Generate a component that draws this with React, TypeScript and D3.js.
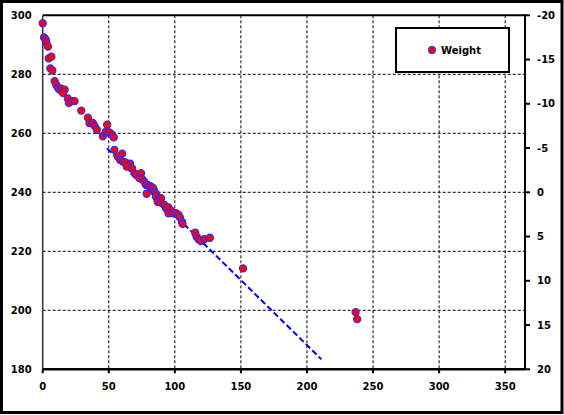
import React from 'react';
import * as d3 from 'd3';

// Day number vs weight
const days = [
  0, 1, 2.3, 2.8, 4, 4.5, 6.6, 5.8, 7.3, 9, 10.3, 11.5, 12.8, 14.1, 16.6, 15.3,
  19, 19.8, 22.4, 24.1, 29.2, 34.2, 35.4, 37.9, 39.2, 41, 45.5, 47.5, 48.8, 48,
  50.5, 52.6, 53.8, 54.3, 56.8, 60.1, 58.6, 60.6, 62.6, 66.1, 63.6, 67.6, 69.4,
  70.7, 74.4, 73.2, 75.2, 76.9, 78.2, 79.4, 80.7, 82, 82.7, 83.7, 84.5, 78.7,
  85.7, 85.7, 88.2, 89.5, 87, 89.5, 92, 93.3, 95.2, 97.1, 95.2, 98.3, 100.8,
  102.8, 103.8, 105.4, 105.8, 115.4, 116.4, 117.9, 119.7, 122.2, 126.5, 151.6,
  236.8, 238,
];
const weights = [
  297.3, 292.5, 291.8, 290.7, 289.4, 285.4, 286, 282, 281.3, 277.7, 276.4,
  275.4, 274.8, 275.1, 274.8, 273.7, 271.8, 270.3, 270.9, 270.9, 267.7, 265.3,
  263.5, 263.5, 262.6, 261.2, 259, 260.1, 262.9, 260.6, 260.3, 259.5, 258.6,
  254.4, 252.1, 253.1, 251, 250.4, 250.1, 249.7, 248.7, 248.2, 246.5, 245.9,
  246.5, 244.8, 244.5, 243.6, 242.5, 242.5, 242.2, 241.9, 241, 241.4, 240.2,
  239.5, 239.5, 238.5, 238, 238, 236.8, 236.5, 235.7, 234.6, 234.9, 233.8,
  232.9, 232.9, 232.9, 232.3, 231.5, 230, 229.3, 226.3, 225, 224.1, 223.5,
  224.1, 224.6, 214.2, 199.4, 197,
];

// dashed trend line end points
const trendDays = [48.6, 210.9];
const trendWeights = [254.9, 183.4];

const xTicks = [0, 50, 100, 150, 200, 250, 300, 350];
const yTicks = [180, 200, 220, 240, 260, 280, 300];
const y2Ticks = [-20, -15, -10, -5, 0, 5, 10, 15, 20];

const W = 564;
const H = 415;
const plot = { left: 42.7, right: 525, top: 15.3, bottom: 369.3 };
const FONT = '"DejaVu Sans", Verdana, sans-serif';

export default function App() {
  const x = d3.scaleLinear().domain([0, 365]).range([plot.left, plot.right]);
  const y = d3.scaleLinear().domain([180, 300]).range([plot.bottom, plot.top]);
  const y2 = d3.scaleLinear().domain([-20, 20]).range([plot.top, plot.bottom]);

  const trend = d3.line<number>()
    .x((_, i) => x(trendDays[i]))
    .y(d => y(d));

  return (
    <>
      <style>{`body{margin:0}`}</style>
      <svg width={W} height={H} style={{ display: 'block', background: '#fff' }}>
        {/* outer chart border */}
        <rect x={1.5} y={1.5} width={W - 3.5} height={H - 4} fill="#fff" stroke="#000" strokeWidth={3} />

        {/* grid */}
        {xTicks.filter(t => t > 0).map(t => (
          <line key={'gx' + t} x1={x(t)} x2={x(t)} y1={plot.top} y2={plot.bottom}
            stroke="#000" strokeWidth={1} strokeDasharray="3 2" />
        ))}
        {yTicks.filter(t => t > 180 && t < 300).map(t => (
          <line key={'gy' + t} x1={plot.left} x2={plot.right} y1={y(t)} y2={y(t)}
            stroke="#000" strokeWidth={1} strokeDasharray="3 2" />
        ))}

        {/* plot frame / axes */}
        <line x1={plot.left} x2={plot.right} y1={plot.top} y2={plot.top} stroke="#000" strokeWidth={2} />
        <line x1={plot.left} x2={plot.left} y1={plot.top} y2={plot.bottom} stroke="#333" strokeWidth={1.5} />
        <line x1={plot.right} x2={plot.right} y1={plot.top - 1} y2={plot.bottom} stroke="#000" strokeWidth={2} />
        <line x1={plot.left} x2={plot.right} y1={plot.bottom} y2={plot.bottom} stroke="#000" strokeWidth={2.5} />

        {/* x axis ticks + labels */}
        {xTicks.map(t => (
          <g key={'xt' + t}>
            <line x1={x(t)} x2={x(t)} y1={plot.bottom} y2={plot.bottom + 4} stroke="#000" strokeWidth={2} />
            <text x={x(t)} y={390} textAnchor="middle" fontFamily={FONT} fontWeight="bold" fontSize={10} fill="#000">
              {t}
            </text>
          </g>
        ))}

        {/* left y labels */}
        {yTicks.map(t => (
          <text key={'yt' + t} x={31.7} y={y(t) + 3.6} textAnchor="end" fontFamily={FONT} fontWeight="bold" fontSize={10} fill="#000">
            {t}
          </text>
        ))}

        {/* right secondary axis */}
        {y2Ticks.map(t => (
          <g key={'y2' + t}>
            <line x1={plot.right} x2={plot.right + 5} y1={y2(t)} y2={y2(t)} stroke="#000" strokeWidth={2} />
            <text x={537} y={y2(t) + 3.6} textAnchor="start" fontFamily={FONT} fontWeight="bold" fontSize={10} fill="#000">
              {t}
            </text>
          </g>
        ))}

        {/* trend line */}
        <path d={trend(trendWeights) || ''} fill="none" stroke="#0000ff" strokeWidth={2} strokeDasharray="6 3" />

        {/* points */}
        {days.map((d, i) => (
          <circle key={'p' + i} cx={x(d)} cy={y(weights[i])} r={3.6}
            fill="#ff0000" stroke="#2a2aff" strokeWidth={1.1} />
        ))}

        {/* legend */}
        <rect x={396} y={28} width={113} height={44} fill="#fff" stroke="#000" strokeWidth={2} />
        <circle cx={432} cy={50} r={3.4} fill="#ff0000" stroke="#2a2aff" strokeWidth={1.1} />
        <text x={441} y={54} fontFamily={FONT} fontWeight="bold" fontSize={10} fill="#000">Weight</text>
      </svg>
    </>
  );
}
